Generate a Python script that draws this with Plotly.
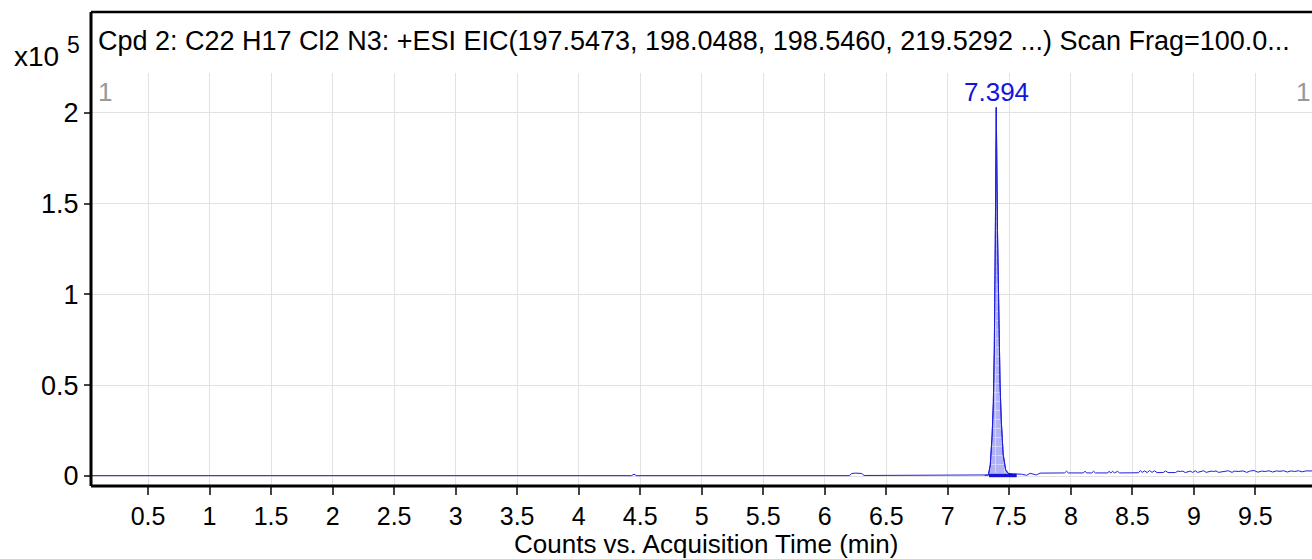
import plotly.graph_objects as go

# ---- data (intensity in units of 1e5 counts) ----
time_pre = [0.035, 2.00, 4.43, 4.45, 4.47, 6.20, 6.22, 6.25, 6.30, 6.32, 7.30]
int_pre = [0.002, 0.002, 0.002, 0.010, 0.002, 0.002, 0.014, 0.016, 0.014, 0.003, 0.003]

peak_time = [7.300, 7.330, 7.345, 7.360, 7.370, 7.378, 7.386, 7.394, 7.404, 7.414, 7.425, 7.435, 7.450, 7.470, 7.490, 7.520]
peak_int = [0.003, 0.006, 0.06, 0.22, 0.40, 0.70, 1.30, 2.03, 1.35, 0.90, 0.50, 0.30, 0.12, 0.035, 0.015, 0.012]

time_post = [7.55, 7.60, 7.64, 7.67, 7.72, 7.75, 7.95, 7.965, 7.98, 8.10, 8.115, 8.13, 8.17, 8.185, 8.20,
             8.30, 8.31, 8.325, 8.34, 8.355, 8.38, 8.395, 8.55, 8.565, 8.58, 8.60, 8.62, 8.64, 8.66, 8.68,
             8.70, 8.75, 8.77, 8.79, 8.85, 8.87, 8.89, 8.91, 8.93, 8.97, 8.99, 9.01, 9.03, 9.06, 9.08, 9.10,
             9.14, 9.16, 9.18, 9.20, 9.25, 9.28, 9.31, 9.33, 9.36, 9.40, 9.43, 9.46, 9.49, 9.52, 9.55, 9.58,
             9.61, 9.64, 9.67, 9.70, 9.73, 9.76, 9.79, 9.82, 9.85, 9.88, 9.91, 9.94, 9.97]
int_post = [0.012, 0.010, 0.004, 0.015, 0.006, 0.016, 0.017, 0.027, 0.017, 0.017, 0.026, 0.017, 0.017, 0.026, 0.017,
            0.017, 0.026, 0.017, 0.026, 0.017, 0.026, 0.017, 0.018, 0.030, 0.020, 0.028, 0.019, 0.030, 0.020, 0.029,
            0.019, 0.019, 0.028, 0.019, 0.019, 0.027, 0.025, 0.027, 0.019, 0.027, 0.020, 0.029, 0.020, 0.028, 0.029, 0.020,
            0.027, 0.025, 0.028, 0.020, 0.026, 0.029, 0.020, 0.027, 0.025, 0.028, 0.020, 0.028, 0.030, 0.021, 0.027, 0.025,
            0.029, 0.022, 0.028, 0.026, 0.029, 0.022, 0.028, 0.025, 0.029, 0.023, 0.028, 0.026, 0.028]

baseline_time = [7.335, 7.560]
baseline_int = [0.003, 0.003]

peak_rt = 7.394
peak_label = "7.394"

x_ticks = [0.5, 1, 1.5, 2, 2.5, 3, 3.5, 4, 4.5, 5, 5.5, 6, 6.5, 7, 7.5, 8, 8.5, 9, 9.5]
x_ticktext = ["0.5", "1", "1.5", "2", "2.5", "3", "3.5", "4", "4.5", "5", "5.5", "6", "6.5", "7", "7.5", "8", "8.5", "9", "9.5"]
y_ticks = [0, 0.5, 1, 1.5, 2]
y_ticktext = ["0", "0.5", "1", "1.5", "2"]

title_text = "Cpd 2: C22 H17 Cl2 N3: +ESI EIC(197.5473, 198.0488, 198.5460, 219.5292 ...) Scan Frag=100.0..."
x_title = "Counts vs. Acquisition Time (min)"

FONT = "Liberation Sans, Arial, sans-serif"
BLUE = "rgb(30,30,225)"

fig = go.Figure()

# peak fill (hatched)
fig.add_trace(go.Scatter(
    x=peak_time, y=peak_int, mode="lines", fill="tozeroy",
    line=dict(color=BLUE, width=1),
    fillcolor="rgba(60,60,225,0.45)",
    fillpattern=dict(shape="+", fgcolor="rgba(255,255,255,0.9)", bgcolor="rgba(70,70,230,0.42)",
                     size=9, solidity=0.2, fillmode="overlay"),
    hoverinfo="skip", showlegend=False))

# full chromatogram line
fig.add_trace(go.Scatter(
    x=time_pre + peak_time + time_post, y=int_pre + peak_int + int_post,
    mode="lines", line=dict(color=BLUE, width=1), showlegend=False))

# integration baseline
fig.add_trace(go.Scatter(
    x=baseline_time, y=baseline_int, mode="lines",
    line=dict(color="rgb(20,20,210)", width=3.5), showlegend=False))

H_PLOT = 559 - 73 - 73  # plot height in px
W_PLOT = 1312 - 91

def py(px):  # pixel y -> paper y
    return 1 - (px - 73) / H_PLOT

def pxp(px):  # pixel x -> paper x
    return (px - 91) / W_PLOT

fig.update_layout(
    width=1312, height=559,
    margin=dict(l=91, r=0, t=73, b=73),
    paper_bgcolor="white", plot_bgcolor="white",
    font=dict(family=FONT, color="black"),
    xaxis=dict(range=[0.0366, 9.96], tickvals=x_ticks, ticktext=x_ticktext,
               showgrid=True, gridcolor="#e2e2e2", gridwidth=1, zeroline=False,
               ticks="outside", ticklen=8, tickwidth=1.5, tickcolor="#444",
               tickfont=dict(size=25, family=FONT, color="black"),
               showline=False),
    yaxis=dict(range=[-0.055, 2.22], tickvals=y_ticks, ticktext=y_ticktext,
               showgrid=True, gridcolor="#e2e2e2", gridwidth=1, zeroline=False,
               ticks="outside", ticklen=6, tickwidth=1.5, tickcolor="#444",
               tickfont=dict(size=27, family=FONT, color="black"),
               showline=False),
    shapes=[
        dict(type="line", xref="paper", yref="paper", x0=0, x1=0, y0=0, y1=py(12),
             line=dict(color="black", width=3)),
        dict(type="line", xref="paper", yref="paper", x0=0, x1=1, y0=0, y1=0,
             line=dict(color="black", width=3)),
        dict(type="line", xref="paper", yref="paper", x0=0, x1=1, y0=py(12), y1=py(12),
             line=dict(color="black", width=2.5)),
    ],
    annotations=[
        dict(text=title_text, xref="paper", yref="paper", x=pxp(96), y=py(41),
             xanchor="left", yanchor="middle", showarrow=False,
             font=dict(size=27, family=FONT, color="black")),
        dict(text="x10", xref="paper", yref="paper", x=pxp(61), y=py(56),
             xanchor="right", yanchor="middle", showarrow=False,
             font=dict(size=28, family=FONT, color="black")),
        dict(text="5", xref="paper", yref="paper", x=pxp(65), y=py(45),
             xanchor="left", yanchor="middle", showarrow=False,
             font=dict(size=23, family=FONT, color="black")),
        dict(text="1", xref="paper", yref="paper", x=pxp(96), y=py(92),
             xanchor="left", yanchor="middle", showarrow=False,
             font=dict(size=26, family=FONT, color="#999999")),
        dict(text="1", xref="paper", yref="paper", x=1, y=py(92),
             xanchor="right", yanchor="middle", showarrow=False,
             font=dict(size=26, family=FONT, color="#999999")),
        dict(text=peak_label, xref="x", yref="paper", x=peak_rt, y=py(92),
             xanchor="center", yanchor="middle", showarrow=False,
             font=dict(size=26, family=FONT, color="rgb(20,20,220)")),
        dict(text=x_title, xref="paper", yref="paper", x=pxp(706), y=py(544),
             xanchor="center", yanchor="middle", showarrow=False,
             font=dict(size=26, family=FONT, color="black")),
    ],
)

fig.write_html("out.html", config={"displayModeBar": False},
               post_script="document.body.style.margin='0';document.body.style.overflow='hidden';")
